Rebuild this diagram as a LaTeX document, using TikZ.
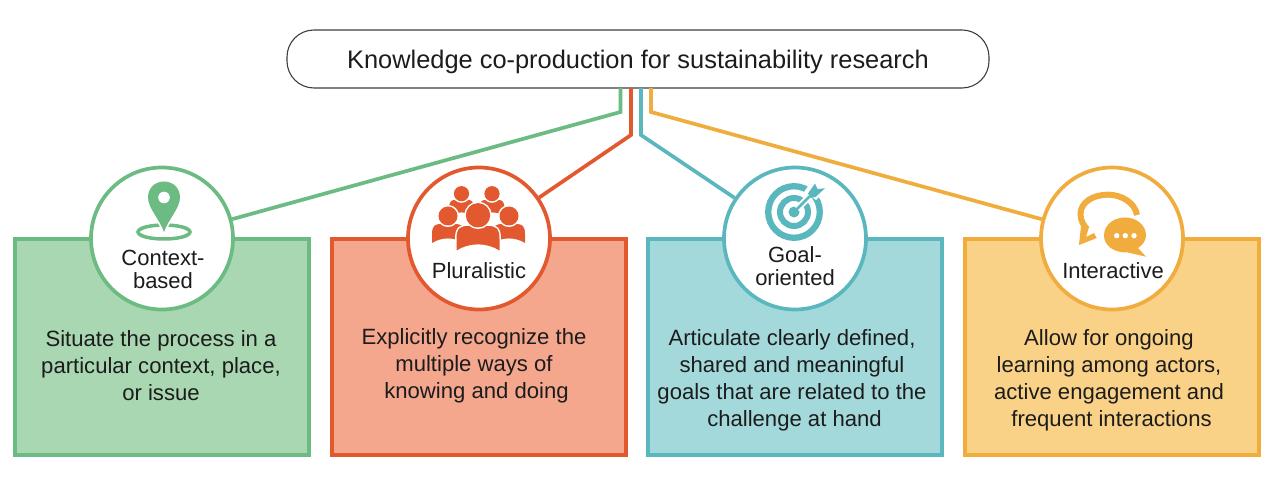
\documentclass[tikz,border=0pt]{standalone}
\usepackage{fontspec}
\setmainfont{Liberation Sans}
\definecolor{grn}{HTML}{6BBB82}\definecolor{grnf}{HTML}{A9D7B1}
\definecolor{red1}{HTML}{E2592F}\definecolor{red1f}{HTML}{F4A78D}
\definecolor{tea}{HTML}{5BB7BE}\definecolor{teaf}{HTML}{A4D9DB}
\definecolor{org}{HTML}{F0AC3C}\definecolor{orgf}{HTML}{FAD287}
\definecolor{ink}{HTML}{1C1C1C}
\tikzset{
  panel/.style={draw=#1,fill=#1f,line width=3.7bp,minimum width=294.3bp,minimum height=216.3bp,inner sep=0pt},
  badge/.style={circle,draw=#1,fill=white,line width=3.7bp,minimum size=142bp,inner sep=0pt},
  link/.style={draw=#1,line width=3.7bp,line join=miter},
  body/.style={text=ink,align=center,font=\fontsize{22.1bp}{27bp}\selectfont},
  tag/.style={text=ink,align=center,font=\fontsize{22bp}{23bp}\selectfont},
  halo/.style={preaction={draw=white,line width=3bp},fill=#1},
}
\begin{document}
\begin{tikzpicture}[x=1bp,y=-1bp]
\useasboundingbox (0,0) rectangle (1272,486);
% title
\node[draw=ink!85,line width=1.1bp,rounded corners=27bp,minimum width=702bp,minimum height=58bp,inner sep=0pt,text=ink,text height=22bp,text depth=3bp,font=\fontsize{25.4bp}{30bp}\selectfont] (title) at (638,59) {Knowledge co-production for sustainability research};
% panels and badges
\newcommand{\panelset}[3]{%
  \node[panel=#2] (#1box) at (#3,347) {};
  \node[badge=#2] (#1circ) at (#3,238.5) {};
}
\panelset{g}{grn}{162}
\panelset{r}{red1}{479}
\panelset{t}{tea}{795}
\panelset{o}{org}{1112}
% connectors
\coordinate (gs) at (620.5,88);\coordinate (gb) at (620.5,112);
\coordinate (rs) at (631,88);\coordinate (rb) at (631,135);
\coordinate (ts) at (641,88);\coordinate (tb) at (641,135);
\coordinate (os) at (651,88);\coordinate (ob) at (651,112);
\draw[link=grn] (gs) -- (gb) -- (gcirc);
\draw[link=red1] (rs) -- (rb) -- (rcirc);
\draw[link=tea] (ts) -- (tb) -- (tcirc);
\draw[link=org] (os) -- (ob) -- (ocirc);
% location pin
\draw[grn,line width=3.5bp] (164,232) ellipse [x radius=26,y radius=7];
\path[preaction={draw=white,line width=3.5bp},fill=grn] (164,232) .. controls (160,220) and (148,208) .. (148,197.5)
  .. controls (148,188) and (155,181.5) .. (164,181.5)
  .. controls (173,181.5) and (180,188) .. (180,197.5)
  .. controls (180,208) and (168,220) .. (164,232) -- cycle;
\fill[white] (164,197.5) circle [radius=5.8];
% group of people: head x, head y, head radius, half width, body bottom
\newcommand{\person}[5]{%
  \path[halo=red1]
    (#1-#4,#5) -- (#1-#4,#5-0.5*#5+0.5*#2+0.5*#3)
    .. controls (#1-#4,#2+#3) and (#1-0.8*#4,#2+#3-1.5) .. (#1-0.45*#4,#2+#3-1.5)
    -- (#1+0.45*#4,#2+#3-1.5)
    .. controls (#1+0.8*#4,#2+#3-1.5) and (#1+#4,#2+#3) .. (#1+#4,#5-0.5*#5+0.5*#2+0.5*#3)
    -- (#1+#4,#5)
    .. controls (#1+0.4*#4,#5-0.38*#4) and (#1-0.4*#4,#5-0.38*#4) .. (#1-#4,#5) -- cycle;
  \path[halo=red1] (#1,#2) circle [radius=#3];
}
\person{461.5}{193.7}{7.6}{12.5}{216}
\person{492}{193.7}{7.6}{12.5}{216}
\person{448}{216}{9.5}{16}{243}
\person{509}{216}{9.5}{16}{243}
\person{478}{215.3}{12.2}{21.5}{250.5}
% target with arrow
\draw[tea,line width=6.3bp] (794,212) circle [radius=25.8];
\draw[tea,line width=6bp] (794,212) circle [radius=14];
\fill[tea] (794,212) circle [radius=5.5];
\draw[white,line width=6.5bp] (797,209) -- (812,194);
\fill[white] (813,179) -- (829,187) -- (816,200) -- (804,192) -- cycle;
\draw[tea,line width=2.8bp] (794,212) -- (810,196);
\fill[tea] (808,193.5) -- (815,183.5) -- (817.5,189) -- (825,188.3) -- (815.5,197) -- (811,198) -- cycle;
% speech bubbles
\draw[org,line width=6bp] (1137,215) .. controls (1135,203) and (1122,194.7) .. (1108,194.7)
  .. controls (1092,194.7) and (1080.5,203) .. (1080.5,214)
  .. controls (1080.5,221) and (1084,226) .. (1087,229);
\fill[org] (1081,226) -- (1079,245) -- (1096.7,238) -- (1094,233) -- (1086,237) -- (1089,227) -- cycle;
\path[halo=org] (1138,248) -- (1146,256.7) -- (1128,252.5)
  .. controls (1113,253) and (1104,245) .. (1104,235.5)
  .. controls (1104,225.5) and (1113,217.5) .. (1125,217.5)
  .. controls (1137,217.5) and (1146,225.5) .. (1146,235.5)
  .. controls (1146,240) and (1143,245) .. (1138,248) -- cycle;
\fill[white] (1116.7,235.7) circle [radius=2.7] (1125.3,235.7) circle [radius=2.7] (1134,235.7) circle [radius=2.7];
% badge labels
\node[tag] (glabel) at (163,269.5) {Context-\\based};
\node[tag] (rlabel) at (479,271) {Pluralistic};
\node[tag] (tlabel) at (795,266) {Goal-\\oriented};
\node[tag] (olabel) at (1113,271) {Interactive};
% panel descriptions
\node[body] (gtext) at (161,366) {Situate the process in a\\particular context, place,\\or issue};
\node[body] (rtext) at (474,366) {Explicitly recognize the\\multiple ways of\\\hspace*{5bp}knowing and doing};
\node[body] (ttext) at (792,380) {Articulate clearly defined,\\shared and meaningful\\goals that are related to the\\\hspace*{5bp}challenge at hand};
\node[body] (otext) at (1109,380) {Allow for ongoing\\learning among actors,\\active engagement and\\\hspace*{5bp}frequent interactions};
\end{tikzpicture}
\end{document}
